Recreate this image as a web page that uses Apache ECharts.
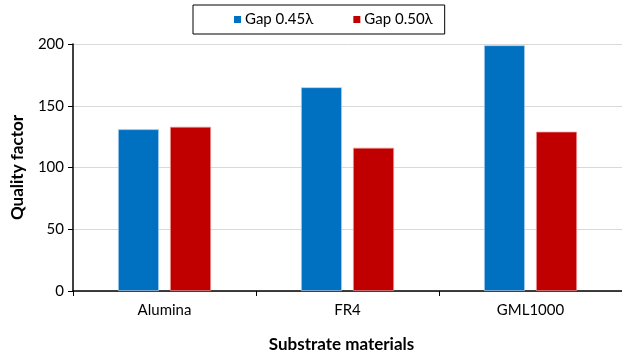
<!DOCTYPE html>
<html><head><meta charset="utf-8">
<script src="https://cdn.jsdelivr.net/npm/echarts@6/dist/echarts.min.js"></script>
<style>html,body{margin:0;padding:0;background:#fff}#c{width:622px;height:358px}</style>
</head><body><div id="c"></div>
<script>
const categories = ['Alumina', 'FR4', 'GML1000'];
const seriesNames = ['Gap 0.45λ', 'Gap 0.50λ'];
const gap045 = [131, 165, 199];
const gap050 = [133, 116, 129];
const yTicks = [0, 50, 100, 150, 200];

const font = 'Lato, "Open Sans", sans-serif';
const chart = echarts.init(document.getElementById('c'), null, {renderer: 'canvas'});
chart.setOption({
  animation: false,
  backgroundColor: '#fff',
  textStyle: {fontFamily: font},
  legend: {
    left: 193, top: 5,
    padding: [7, 12, 7, 41],
    itemWidth: 7, itemHeight: 7, itemGap: 40,
    borderColor: '#000', borderWidth: 1,
    icon: 'rect',
    itemStyle: {borderWidth: 0},
    textStyle: {fontSize: 15, color: '#000', fontFamily: font, padding: [0, 0, 0, -1]},
    data: seriesNames
  },
  grid: {left: 73, top: 44, width: 552, height: 247, containLabel: false},
  xAxis: {
    type: 'category', data: categories,
    axisLine: {lineStyle: {color: '#000', width: 1.5}},
    axisTick: {show: true, length: 5, lineStyle: {color: '#000'}},
    axisLabel: {fontSize: 15, color: '#000', margin: 12, fontFamily: font},
    name: 'Substrate materials', nameLocation: 'middle', nameGap: 45,
    nameTextStyle: {fontSize: 17, fontWeight: 'bold', color: '#000', fontFamily: font, padding: [0, 12, 0, 0]}
  },
  yAxis: {
    type: 'value', min: 0, max: 200, interval: 50,
    axisLine: {show: true, lineStyle: {color: '#000', width: 1.5}},
    axisTick: {show: true, length: 5, lineStyle: {color: '#000'}},
    axisLabel: {fontSize: 15, color: '#000', margin: 9, fontFamily: font,
      formatter: v => yTicks.includes(v) ? String(v) : ''},
    splitLine: {lineStyle: {color: '#d9d9d9', width: 1}},
    name: 'Quality factor', nameLocation: 'middle', nameGap: 47,
    nameTextStyle: {fontSize: 17, fontWeight: 'bold', color: '#000', fontFamily: font}
  },
  series: [
    {name: seriesNames[0], type: 'bar', data: gap045, barWidth: 41, barGap: '27%',
     itemStyle: {color: '#0070C0', borderColor: 'rgba(180,210,240,0.9)', borderWidth: 0.8}},
    {name: seriesNames[1], type: 'bar', data: gap050, barWidth: 41, barGap: '27%',
     itemStyle: {color: '#C00000', borderColor: 'rgba(235,150,150,0.9)', borderWidth: 0.8}}
  ]
});
</script></body></html>
